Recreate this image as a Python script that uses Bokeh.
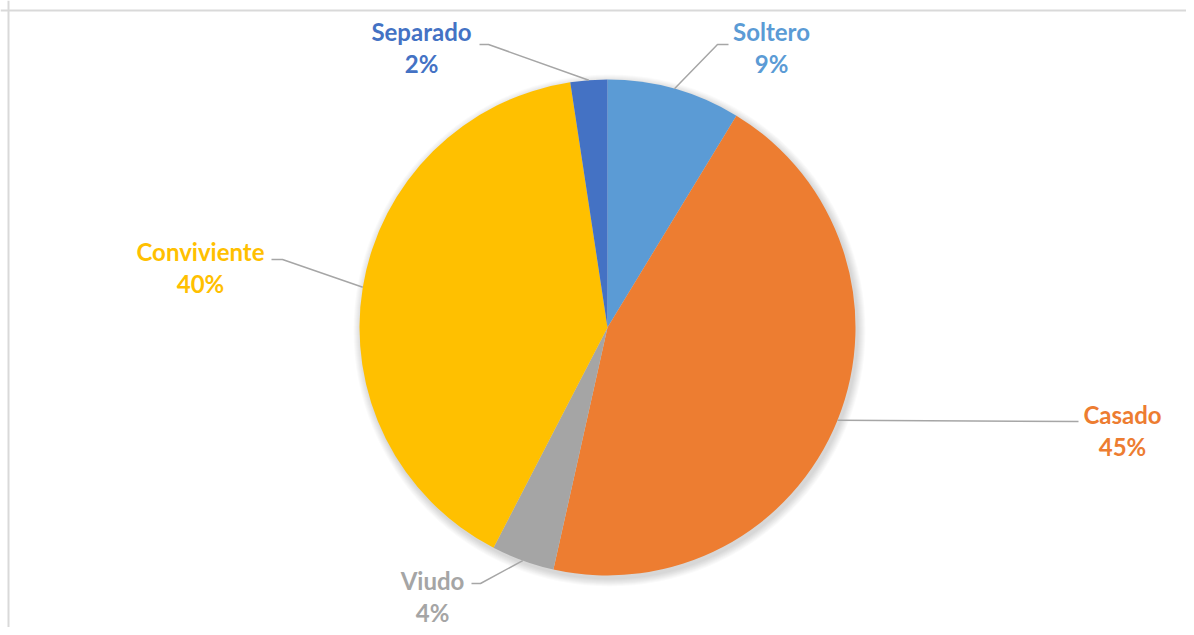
import math
from bokeh.plotting import figure
from bokeh.models import Range1d, Span
from bokeh.core.properties import value
from bokeh.embed import file_html
from bokeh.resources import INLINE

# ---- data ----
categories = ["Soltero", "Casado", "Viudo", "Conviviente", "Separado"]
shares = [8.7, 44.8, 4.1, 40.0, 2.4]
colors = ["#5B9BD5", "#ED7D31", "#A5A5A5", "#FFC000", "#4472C4"]

# ---- layout (picture pixel coords) ----
W, H = 1186, 627
def X(px): return px
def Y(py): return H - py

cx, cy, R = X(607), Y(327), 248
label_pos = {  # centre of the name line; percentage line sits 32px lower
    "Soltero": (771, 31),
    "Casado": (1122, 414),
    "Viudo": (432, 580),
    "Conviviente": (200, 251),
    "Separado": (421, 31),
}
leader_pts = {  # elbow, end
    "Soltero": [(717, 44), (728, 44)],
    "Casado": [(1078, 421)],
    "Viudo": [(480, 583), (471, 583)],
    "Conviviente": [(282, 259), (271, 259)],
    "Separado": [(488, 44), (479, 44)],
}

p = figure(width=W, height=H, x_range=Range1d(0, W), y_range=Range1d(0, H),
           output_backend="svg", toolbar_location=None, min_border=0)
p.axis.visible = False
p.grid.visible = False
p.outline_line_color = None
p.background_fill_color = "white"

# chart border (left and top visible)
p.add_layout(Span(location=X(8), dimension="height", line_color="#d9d9d9", line_width=2))
p.add_layout(Span(location=Y(10), dimension="width", line_color="#d9d9d9", line_width=2))

# soft shadow
for k in range(8):
    p.circle(x=[cx + 2], y=[cy - 3], radius=R + 8 - k, fill_color="black",
             fill_alpha=0.018, line_color=None)

total = sum(shares)
c0 = 0.0
for cat, val, col in zip(categories, shares, colors):
    c1 = c0 + val / total
    start = math.pi / 2 - 2 * math.pi * c0
    end = math.pi / 2 - 2 * math.pi * c1
    p.wedge(x=[cx], y=[cy], radius=R, start_angle=start, end_angle=end,
            direction="clock", fill_color=col, line_color=None)
    mid = (start + end) / 2
    ax, ay = cx + R * math.cos(mid), cy + R * math.sin(mid)
    xs = [ax] + [X(q[0]) for q in leader_pts[cat]]
    ys = [ay] + [Y(q[1]) for q in leader_pts[cat]]
    p.line(xs, ys, line_color="#a6a6a6", line_width=1.5)
    lx, ly = label_pos[cat]
    p.text(x=[X(lx)], y=[Y(ly)], text=[cat], text_align="center", text_baseline="middle",
           text_color=col, text_font=value("Lato"), text_font_style="bold",
           text_font_size="24px")
    p.text(x=[X(lx)], y=[Y(ly + 32)], text=[f"{round(val)}%"], text_align="center",
           text_baseline="middle", text_color=col, text_font=value("Lato"),
           text_font_style="bold", text_font_size="24px")
    c0 = c1

open("out.html", "w").write(file_html(p, INLINE))
